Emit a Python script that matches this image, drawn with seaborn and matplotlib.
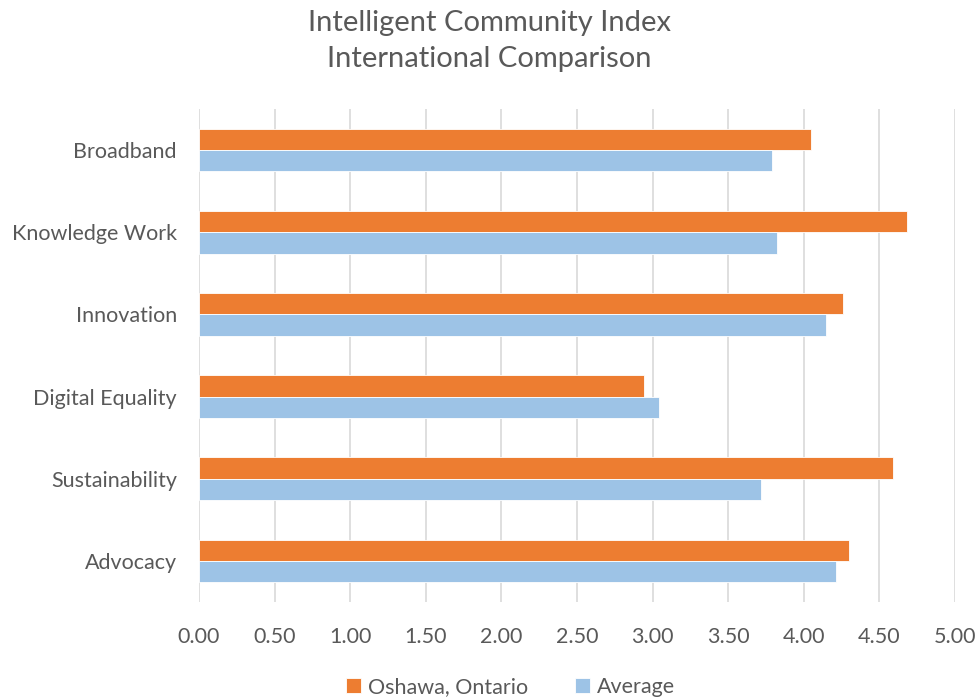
import pandas as pd
import matplotlib
matplotlib.use("Agg")
import matplotlib.pyplot as plt
import seaborn as sns

# data
categories = ["Broadband", "Knowledge Work", "Innovation", "Digital Equality", "Sustainability", "Advocacy"]
oshawa = [4.05, 4.68, 4.26, 2.94, 4.59, 4.30]
average = [3.79, 3.82, 4.15, 3.04, 3.72, 4.21]
series_names = ["Oshawa, Ontario", "Average"]
x_ticks = [0, 0.5, 1, 1.5, 2, 2.5, 3, 3.5, 4, 4.5, 5]

df = pd.DataFrame({
    "category": categories * 2,
    "value": oshawa + average,
    "series": [series_names[0]] * len(categories) + [series_names[1]] * len(categories),
})

sns.set_style("white")
plt.rcParams["font.family"] = ["Lato", "DejaVu Sans"]
text_color = "#595959"

fig = plt.figure(figsize=(9.79, 7), dpi=100)
ax = fig.add_axes([0.2033, 0.14, 0.7722, 0.7043])

sns.barplot(data=df, y="category", x="value", hue="series", orient="h",
            palette=["#ED7D31", "#9DC3E6"], saturation=1, width=0.52, ax=ax,
            edgecolor="white", linewidth=0.6, legend=True)

ax.set_xlim(0, 5)
ax.set_xticks(x_ticks)
ax.set_xticklabels([f"{t:.2f}" for t in x_ticks])
ax.set_xlabel("")
ax.set_ylabel("")
ax.xaxis.grid(True, color="#d9d9d9", linewidth=1.2)
ax.set_axisbelow(True)
for s in ax.spines.values():
    s.set_visible(False)
ax.tick_params(axis="both", length=0, labelsize=15.5, labelcolor=text_color)
ax.tick_params(axis="x", pad=18)
ax.tick_params(axis="y", pad=16)

ax.legend(loc="upper center", bbox_to_anchor=(0.412, -0.113), ncol=2, frameon=False,
          fontsize=15.5, labelcolor=text_color, handlelength=0.7, handleheight=0.7,
          handletextpad=0.3, columnspacing=2.2)

fig.suptitle("Intelligent Community Index\nInternational Comparison", y=0.985,
             fontsize=21, color=text_color, linespacing=1.45)

fig.savefig("out.png", dpi=100)
